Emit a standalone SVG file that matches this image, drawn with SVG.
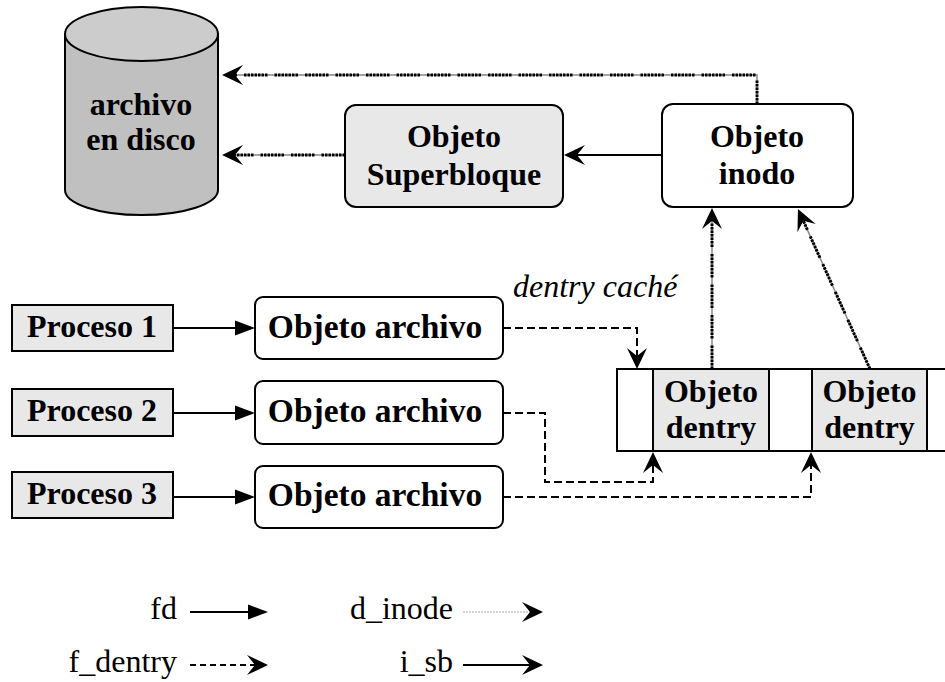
<svg xmlns="http://www.w3.org/2000/svg" width="945" height="682" viewBox="0 0 945 682">
<style>
text{fill:#000}
.b{font-weight:bold;font-size:32px;text-anchor:middle}
.ba{font-weight:bold;font-size:33.5px;text-anchor:middle}
.r{font-size:32px}
.box{stroke:#000;stroke-width:2}
.g{fill:#e8e8e8}
.w{fill:#fff}
.solid{fill:none;stroke:#000;stroke-width:2}
.dash{fill:none;stroke:#000;stroke-width:2;stroke-dasharray:8 4}
.dotu{fill:none;stroke:#888;stroke-width:1.5}
.doto{fill:none;stroke:#000;stroke-width:3;stroke-dasharray:2.5 1 2.5 1 2.5 1 2.5 1 2.5 1 2.5 1 2.5 7}
.light{fill:none;stroke:#aaa;stroke-width:1;stroke-dasharray:2 1}
</style>
<defs>
<marker id="tri" markerUnits="userSpaceOnUse" markerWidth="26" markerHeight="20" viewBox="-22 -10 26 20" refX="-4" refY="0" orient="auto" overflow="visible">
<path d="M0,0 L-20,-7.5 L-20,7.5 Z" fill="#000"/>
</marker>
<marker id="st" markerUnits="userSpaceOnUse" markerWidth="26" markerHeight="24" viewBox="-22 -12 26 24" refX="-4" refY="0" orient="auto" overflow="visible">
<path d="M0,0 L-21,-10 L-13,0 L-21,10 Z" fill="#000"/>
</marker>
</defs>

<g font-family="Liberation Serif, Times New Roman, serif">
<g id="disco">
<path d="M65,34 L65,190 A76.5,25 0 0 0 218,190 L218,34 Z" fill="#c0c0c0" class="box"/>
<ellipse cx="141.5" cy="34" rx="76.5" ry="27" fill="#cccccc" class="box"/>
<text class="b" x="141" y="115">archivo</text>
<text class="b" x="141" y="150">en disco</text>
</g>

<g id="superbloque">
<rect x="345" y="105" width="218" height="102" rx="11" class="box g"/>
<text class="b" x="454" y="147">Objeto</text>
<text class="b" x="454" y="185">Superbloque</text>
</g>

<g id="inodo">
<rect x="662" y="104" width="191" height="103" rx="11" class="box w"/>
<text class="b" x="757" y="147">Objeto</text>
<text class="b" x="757" y="184">inodo</text>
</g>

<g id="proceso1">
<rect x="12" y="305" width="161" height="46" class="box g"/>
<text class="b" x="92" y="337">Proceso 1</text>
</g>
<g id="proceso2">
<rect x="12" y="389" width="161" height="47" class="box g"/>
<text class="b" x="92" y="421">Proceso 2</text>
</g>
<g id="proceso3">
<rect x="12" y="472" width="161" height="46" class="box g"/>
<text class="b" x="92" y="504">Proceso 3</text>
</g>

<g id="archivo1">
<rect x="255" y="297" width="248" height="62" rx="8" class="box w"/>
<text class="ba" x="375" y="338">Objeto archivo</text>
</g>
<g id="archivo2">
<rect x="255" y="381" width="248" height="63" rx="8" class="box w"/>
<text class="ba" x="375" y="422">Objeto archivo</text>
</g>
<g id="archivo3">
<rect x="255" y="466" width="248" height="62" rx="8" class="box w"/>
<text class="ba" x="375" y="506">Objeto archivo</text>
</g>

<g id="dentry-cache">
<rect x="617" y="369" width="36" height="82" class="box w"/>
<rect x="769" y="369" width="43" height="82" class="box w"/>
<rect x="927" y="369" width="40" height="82" class="box w"/>
<text x="513" y="297" class="r" font-style="italic">dentry caché</text>
</g>
<g id="dentry1">
<rect x="653" y="369" width="116" height="82" class="box g"/>
<text class="b" x="711" y="402">Objeto</text>
<text class="b" x="711" y="438">dentry</text>
</g>
<g id="dentry2">
<rect x="812" y="369" width="115" height="82" class="box g"/>
<text class="b" x="869.5" y="402">Objeto</text>
<text class="b" x="869.5" y="438">dentry</text>
</g>

<g id="connectors">
<path class="solid" d="M173,328 L251,328" marker-end="url(#tri)"/>
<path class="solid" d="M173,413 L251,413" marker-end="url(#tri)"/>
<path class="solid" d="M173,497 L251,497" marker-end="url(#tri)"/>
<path class="solid" d="M662,155 L568,155" marker-end="url(#st)"/>

<path class="dotu" d="M345,155 L226,155"/>
<path class="doto" d="M345,155 L226,155" marker-end="url(#st)"/>
<path class="dotu" d="M757,104 L757,75 L226,75"/>
<path class="doto" d="M757,104 L757,75 L226,75" marker-end="url(#st)"/>
<path class="dotu" d="M712,369 L712,212"/>
<path class="doto" d="M712,369 L712,212" marker-end="url(#st)"/>
<path class="dotu" d="M870,369 L799.6,212.6"/>
<path class="doto" d="M870,369 L799.6,212.6" marker-end="url(#st)"/>

<path class="dash" d="M503,328 L637,328 L637,365" marker-end="url(#st)"/>
<path class="dash" d="M503,413 L545,413 L545,482 L653,482 L653,456" marker-end="url(#st)"/>
<path class="dash" d="M503,497 L811,497 L811,456" marker-end="url(#st)"/>
</g>

<g id="leyenda">
<text class="r" x="177" y="619" text-anchor="end">fd</text>
<path class="solid" d="M190,612 L264,612" marker-end="url(#tri)"/>
<text class="r" x="453" y="619" text-anchor="end">d_inode</text>
<path class="light" d="M463,612 L539,612" marker-end="url(#st)"/>
<text class="r" x="177" y="672" text-anchor="end">f_dentry</text>
<path class="dash" d="M190,665 L264,665" marker-end="url(#st)" style="stroke-dasharray:6 4"/>
<text class="r" x="453" y="672" text-anchor="end">i_sb</text>
<path class="solid" d="M463,665 L539,665" marker-end="url(#st)"/>
</g>
</g>
</svg>
